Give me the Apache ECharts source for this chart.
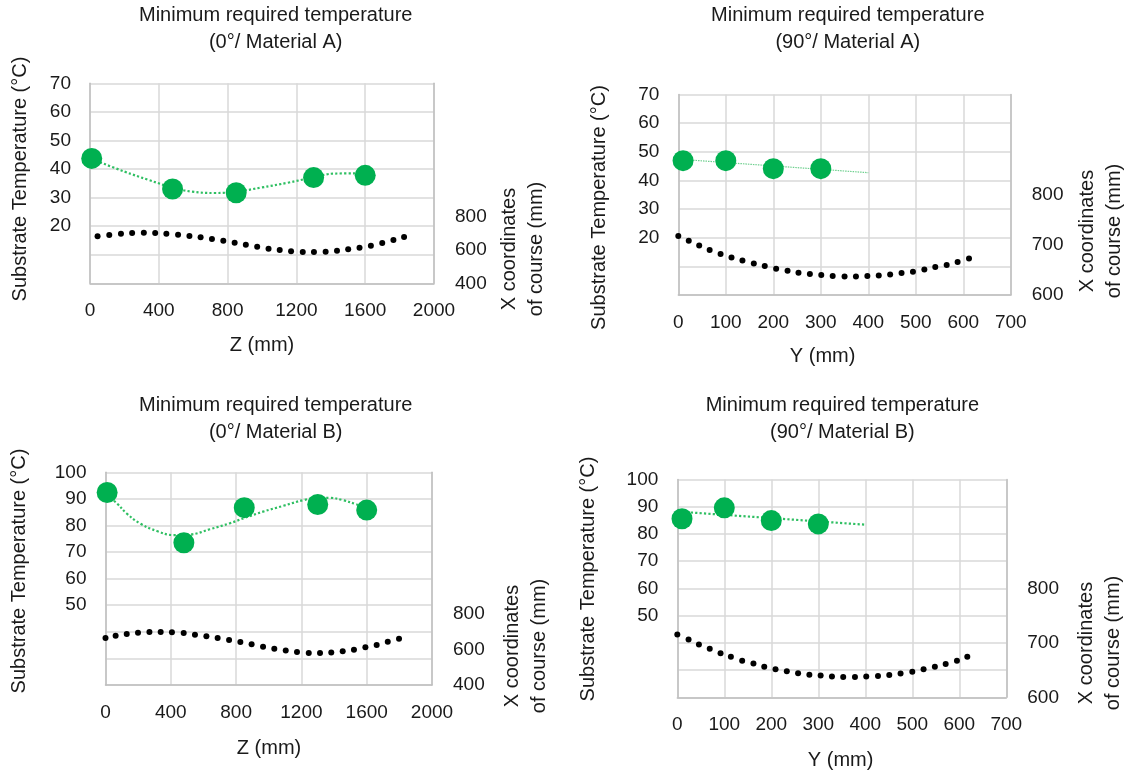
<!DOCTYPE html>
<html><head><meta charset="utf-8">
<script src="https://cdn.jsdelivr.net/npm/echarts@6/dist/echarts.min.js"></script>
<style>html,body{margin:0;padding:0;background:#fff}#c{width:1124px;height:772px}</style>
</head><body><div id="c"></div>
<script>
// ---------- DATA ----------
// Panel 1: 0° / Material A  (Z axis)
const zA_tempX   = [10, 480, 850, 1300, 1600];
const zA_temp    = [43.7, 33.0, 31.7, 37.0, 37.8];
const zA_trendX  = [10, 200, 340, 480, 590, 725, 855, 995, 1150, 1300, 1420, 1600];
const zA_trend   = [43.5, 39.1, 36.2, 33.5, 32.1, 31.6, 32.1, 33.5, 35.2, 37.1, 38.4, 38.5];
const zA_courseX = [44,112,180,245,313,379,444,512,578,643,709,775,841,906,972,1038,1103,1169,1237,1302,1370,1436,1501,1567,1633,1699,1764,1826];
const zA_course  = [682,690,698,702,704,702,698,692,684,676,666,656,644,632,620,608,600,592,588,588,590,596,604,614,626,642,660,678];

// Panel 2: 90° / Material A  (Y axis)
const yA_tempX   = [10, 100, 200, 300];
const yA_temp    = [46.9, 46.9, 44.1, 44.1];
const yA_trendX  = [10, 400];
const yA_trend   = [47.3, 42.7];
const yA_courseX = [0,22,44,66,89,112,135,159,182,206,230,253,277,301,325,350,374,398,422,446,470,494,518,541,565,588,612];
const yA_course  = [717.5,708,699,690,682,675,669,663,658,652.5,648.5,644.5,642,640,638,637,637,638,639,641,644,646.5,651,656,660,666,673];

// Panel 3: 0° / Material B  (Z axis)
const zB_tempX   = [10, 480, 850, 1300, 1600];
const zB_temp    = [92.4, 73.5, 86.7, 87.9, 85.8];
const zB_trendX  = [10, 70, 130, 210, 315, 415, 520, 640, 760, 855, 965, 1090, 1210, 1305, 1375, 1455, 1540, 1600];
const zB_trend   = [91.4, 88.3, 84.5, 80.8, 77.9, 76.4, 76.6, 78.6, 80.8, 82.9, 85.2, 87.4, 89.5, 90.4, 90.4, 89.5, 87.9, 86.8];
const zB_courseX = [0,62,130,199,269,338,407,479,548,618,687,757,826,895,965,1034,1104,1173,1245,1314,1383,1453,1522,1592,1661,1729,1798];
const zB_course  = [665,678,688,695,699,699,697,693,684,675,665,654,643,630,616,605,594,586,580.5,580.5,584,590,599,612.5,626,644.5,661];

// Panel 4: 90° / Material B  (Y axis)
const yB_tempX   = [10, 100, 200, 300];
const yB_temp    = [85.6, 89.6, 84.9, 83.7];
const yB_trendX  = [10, 400];
const yB_trend   = [88.1, 83.4];
const yB_courseX = [0,24,46,69,92,114,138,162,185,209,233,257,281,305,329,353,378,402,427,451,475,500,524,548,571,595,617];
const yB_course  = [715.5,706,697,689,681,674.5,667,662,656,651.5,648,644,641.5,640,638,637.5,637.5,638,639,641,643.5,647,651.5,656,661,667,674.5];

// Axis ranges / tick settings
const zAxisRange = {min: 0, max: 2000, interval: 400};
const yAxisRange = {min: 0, max: 700, interval: 100};
const tempA = {min: 0, max: 70, interval: 10, showFrom: 20};
const tempB = {min: 20, max: 100, interval: 10, showFrom: 50};
const courseZ = {min: 400, max: 1600, interval: 200, showTo: 800};
const courseY = {min: 600, max: 1000, interval: 100, showTo: 800};

const titles = ['Minimum required temperature\n(0°/ Material A)', 'Minimum required temperature\n(90°/ Material A)',
                'Minimum required temperature\n(0°/ Material B)', 'Minimum required temperature\n(90°/ Material B)'];
const xNames = ['Z (mm)', 'Y (mm)', 'Z (mm)', 'Y (mm)'];
const leftName = 'Substrate Temperature (°C)';
const rightName = 'X coordinates\nof course (mm)';

// ---------- LAYOUT ----------
const FONT = "'Liberation Sans', Arial, sans-serif";
const TXT = '#1a1a1a';
const panels = [
  {grid:{left:90, top:83.3, width:344, height:200}, x:zAxisRange, t:tempA, c:courseZ,
   temp:[zA_tempX,zA_temp], trend:[zA_trendX,zA_trend], course:[zA_courseX,zA_course], smooth:true, thin:false,
   title:[275.7, 2], lname:[20,179], rname:[523,249], xname:[262,345]},
  {grid:{left:678.3, top:94.5, width:332.5, height:200.5}, x:yAxisRange, t:tempA, c:courseY,
   temp:[yA_tempX,yA_temp], trend:[yA_trendX,yA_trend], course:[yA_courseX,yA_course], smooth:false, thin:true,
   title:[847.8, 2], lname:[599.6,207.5], rname:[1100.5,231], xname:[822.6,356.7]},
  {grid:{left:105.5, top:472.3, width:326.5, height:212.7}, x:zAxisRange, t:tempB, c:courseZ,
   temp:[zB_tempX,zB_temp], trend:[zB_trendX,zB_trend], course:[zB_courseX,zB_course], smooth:true, thin:false,
   title:[275.7, 391.5], lname:[19.7,571], rname:[526,646], xname:[269,748.3]},
  {grid:{left:677.3, top:479.5, width:329, height:217.8}, x:yAxisRange, t:tempB, c:courseY,
   temp:[yB_tempX,yB_temp], trend:[yB_trendX,yB_trend], course:[yB_courseX,yB_course], smooth:false, thin:false,
   title:[842.4, 391.5], lname:[588.8,579], rname:[1099.5,643], xname:[840.6,760]}
];

const zip = (a, b) => a.map((v, i) => [v, b[i]]);
const grid = [], xAxis = [], yAxis = [], series = [], title = [], graphic = [];
const axisLbl = {fontSize: 19, color: TXT, fontFamily: FONT};

panels.forEach((p, i) => {
  grid.push(Object.assign({outerBoundsMode: 'none', containLabel: false}, p.grid));
  xAxis.push({type:'value', gridIndex:i, min:p.x.min, max:p.x.max, interval:p.x.interval,
    axisLine:{show:true, onZero:false, lineStyle:{color:'#bfbfbf', width:1.5}},
    axisTick:{show:false},
    splitLine:{show:true, lineStyle:{color:'#d9d9d9', width:1.5}},
    axisLabel:Object.assign({margin:18, formatter: v => String(v)}, axisLbl)});
  const t = p.t, c = p.c;
  yAxis.push({type:'value', gridIndex:i, position:'left', min:t.min, max:t.max, interval:t.interval,
    axisLine:{show:true, onZero:false, lineStyle:{color:'#bfbfbf', width:1.5}},
    axisTick:{show:false},
    splitLine:{show:true, lineStyle:{color:'#d9d9d9', width:1.5}},
    axisLabel:Object.assign({margin:19, formatter: v => v >= t.showFrom ? String(v) : ''}, axisLbl)});
  yAxis.push({type:'value', gridIndex:i, position:'right', min:c.min, max:c.max, interval:c.interval,
    axisLine:{show:true, onZero:false, lineStyle:{color:'#bfbfbf', width:1.5}},
    axisTick:{show:false}, splitLine:{show:false},
    axisLabel:Object.assign({margin:21, formatter: v => v <= c.showTo ? String(v) : ''}, axisLbl)});

  series.push({type:'scatter', xAxisIndex:i, yAxisIndex:2*i+1, data:zip(p.course[0], p.course[1]),
    symbol:'circle', symbolSize:6, itemStyle:{color:'#000', opacity:1}, z:2, silent:true});
  series.push({type:'line', xAxisIndex:i, yAxisIndex:2*i, data:zip(p.trend[0], p.trend[1]),
    smooth:p.smooth ? 0.4 : false, showSymbol:false, symbol:'none', z:3, silent:true,
    lineStyle: p.thin ? {color:'#6fd08f', width:1.2, type:[1.5,1]} : {color:'#2fbf62', width:2.2, type:[2.2,2.2]}});
  series.push({type:'scatter', xAxisIndex:i, yAxisIndex:2*i, data:zip(p.temp[0], p.temp[1]),
    symbol:'circle', symbolSize:21, itemStyle:{color:'#00B050', opacity:1}, z:4, silent:true});

  title.push({text:titles[i], left:p.title[0], top:p.title[1], textAlign:'center', padding:0,
    textStyle:{fontSize:20, lineHeight:27, fontWeight:'normal', color:TXT, fontFamily:FONT}});

  const txtStyle = (s) => ({text:s, fontSize:20, fontFamily:FONT, fill:TXT, align:'center', verticalAlign:'middle', lineHeight:27});
  graphic.push({type:'text', x:p.lname[0], y:p.lname[1], rotation:Math.PI/2, style:txtStyle(leftName), silent:true});
  graphic.push({type:'text', x:p.rname[0], y:p.rname[1], rotation:Math.PI/2, style:txtStyle(rightName), silent:true});
  graphic.push({type:'text', x:p.xname[0], y:p.xname[1], style:txtStyle(xNames[i]), silent:true});
});

const chart = echarts.init(document.getElementById('c'), null, {renderer:'canvas'});
chart.setOption({animation:false, backgroundColor:'#fff', title, grid, xAxis, yAxis, series, graphic});
</script>
</body></html>
